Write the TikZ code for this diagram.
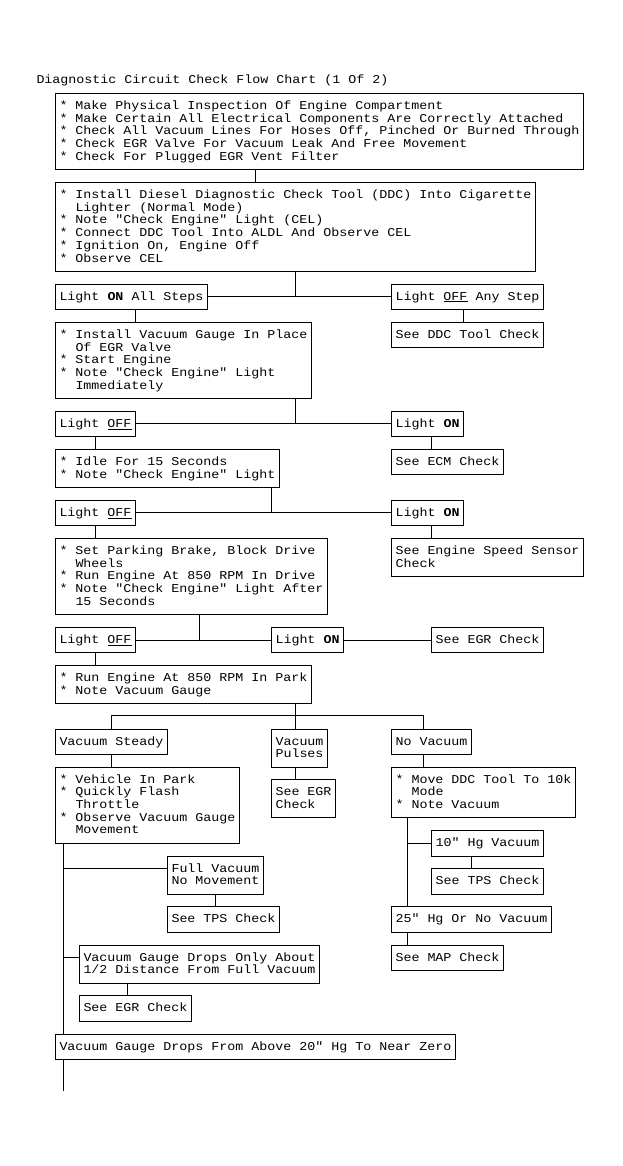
\documentclass[tikz,border=0pt]{standalone}
\usepackage{fontspec}
\setmonofont{Liberation Mono}[FakeStretch=1.11093]
\newcommand\Ta{\rule{0pt}{11pt}}
\newcommand\Tb{\rule[-4.4pt]{0pt}{4.4pt}}
\newcommand\ind{\hspace*{16pt}}
\begin{document}
\lineskiplimit=-20pt
\begin{tikzpicture}[x=1pt,y=-12.71pt,line width=1pt,
  every node/.style={font=\ttfamily\fontsize{12pt}{12.71pt}\selectfont},
  bx/.style={draw,anchor=north west,align=left,inner xsep=4pt,inner ysep=0pt,minimum height={(#1+1)*12.71pt}}]
\useasboundingbox (0pt,0pt) rectangle (622pt,-1166pt);
\begin{scope}[shift={(0pt,-93pt)}]
\node[anchor=base west,inner sep=0pt] (title) at (36,-0.74) {Diagnostic Circuit Check Flow Chart (1 Of 2)};
% boxes
\node[bx=5] (b1) at (55,0) {\Ta* Make Physical Inspection Of Engine Compartment\\{}* Make Certain All Electrical Components Are Correctly Attached\\{}* Check All Vacuum Lines For Hoses Off, Pinched Or Burned Through\\{}* Check EGR Valve For Vacuum Leak And Free Movement\\{}* Check For Plugged EGR Vent Filter\Tb};
\node[bx=6] (b2) at (55,7) {\Ta* Install Diesel Diagnostic Check Tool (DDC) Into Cigarette\\\ind Lighter (Normal Mode)\\{}* Note "Check Engine" Light (CEL)\\{}* Connect DDC Tool Into ALDL And Observe CEL\\{}* Ignition On, Engine Off\\{}* Observe CEL\Tb};
\node[bx=1] (lon1) at (55,15) {\Ta Light \textbf{ON} All Steps\Tb};
\node[bx=1] (loff1) at (391,15) {\Ta Light \underline{OFF} Any Step\Tb};
\node[bx=5] (b3) at (55,18) {\Ta* Install Vacuum Gauge In Place\\\ind Of EGR Valve\\{}* Start Engine\\{}* Note "Check Engine" Light\\\ind Immediately\Tb};
\node[bx=1] (ddc) at (391,18) {\Ta See DDC Tool Check\Tb};
\node[bx=1] (loff2) at (55,25) {\Ta Light \underline{OFF}\Tb};
\node[bx=1] (lon2) at (391,25) {\Ta Light \textbf{ON}\Tb};
\node[bx=2] (b4) at (55,28) {\Ta* Idle For 15 Seconds\\{}* Note "Check Engine" Light\Tb};
\node[bx=1] (ecm) at (391,28) {\Ta See ECM Check\Tb};
\node[bx=1] (loff3) at (55,32) {\Ta Light \underline{OFF}\Tb};
\node[bx=1] (lon3) at (391,32) {\Ta Light \textbf{ON}\Tb};
\node[bx=5] (b5) at (55,35) {\Ta* Set Parking Brake, Block Drive\\\ind Wheels\\{}* Run Engine At 850 RPM In Drive\\{}* Note "Check Engine" Light After\\\ind 15 Seconds\Tb};
\node[bx=2] (ess) at (391,35) {\Ta See Engine Speed Sensor\\Check\Tb};
\node[bx=1] (loff4) at (55,42) {\Ta Light \underline{OFF}\Tb};
\node[bx=1] (lon4) at (271,42) {\Ta Light \textbf{ON}\Tb};
\node[bx=1] (egr1) at (431,42) {\Ta See EGR Check\Tb};
\node[bx=2] (b6) at (55,45) {\Ta* Run Engine At 850 RPM In Park\\{}* Note Vacuum Gauge\Tb};
\node[bx=1] (vs) at (55,50) {\Ta Vacuum Steady\Tb};
\node[bx=2] (vp) at (271,50) {\Ta Vacuum\\Pulses\Tb};
\node[bx=1] (nv) at (391,50) {\Ta No Vacuum\Tb};
\node[bx=5] (b7) at (55,53) {\Ta* Vehicle In Park\\{}* Quickly Flash\\\ind Throttle\\{}* Observe Vacuum Gauge\\\ind Movement\Tb};
\node[bx=2] (egr2) at (271,54) {\Ta See EGR\\Check\Tb};
\node[bx=3] (b8) at (391,53) {\Ta* Move DDC Tool To 10k\\\ind Mode\\{}* Note Vacuum\Tb};
\node[bx=1] (hg10) at (431,58) {\Ta 10" Hg Vacuum\Tb};
\node[bx=2] (fv) at (167,60) {\Ta Full Vacuum\\No Movement\Tb};
\node[bx=1] (tps2) at (431,61) {\Ta See TPS Check\Tb};
\node[bx=1] (tps1) at (167,64) {\Ta See TPS Check\Tb};
\node[bx=1] (hg25) at (391,64) {\Ta 25" Hg Or No Vacuum\Tb};
\node[bx=2] (vgdo) at (79,67) {\Ta Vacuum Gauge Drops Only About\\1/2 Distance From Full Vacuum\Tb};
\node[bx=1] (map) at (391,67) {\Ta See MAP Check\Tb};
\node[bx=1] (egr3) at (79,71) {\Ta See EGR Check\Tb};
\node[bx=1] (vgdf) at (55,74) {\Ta Vacuum Gauge Drops From Above 20" Hg To Near Zero\Tb};
% connectors
\draw (b1.south -| 255,0) -- (b2.north -| 255,0);
\draw (b2.south -| 295,0) -- (lon1.east -| 295,0);
\draw (lon1.east) -- (loff1.west);
\draw (lon1.south -| 135,0) -- (b3.north -| 135,0);
\draw (loff1.south -| 463,0) -- (ddc.north -| 463,0);
\draw (b3.south -| 295,0) -- (loff2.east -| 295,0);
\draw (loff2.east) -- (lon2.west);
\draw (lon2.south -| 431,0) -- (ecm.north -| 431,0);
\draw (loff2.south -| 95,0) -- (b4.north -| 95,0);
\draw (b4.south -| 271,0) -- (loff3.east -| 271,0);
\draw (loff3.east) -- (lon3.west);
\draw (lon3.south -| 431,0) -- (ess.north -| 431,0);
\draw (loff3.south -| 95,0) -- (b5.north -| 95,0);
\draw (b5.south -| 199,0) -- (loff4.east -| 199,0);
\draw (loff4.east) -- (lon4.west);
\draw (lon4.east) -- (egr1.west);
\draw (loff4.south -| 95,0) -- (b6.north -| 95,0);
\coordinate (busL) at (111,49);
\coordinate (busM) at (295,49);
\coordinate (busR) at (423,49);
\draw (b6.south -| busM) -- (busM);
\draw (vs.north -| busL) -- (busL) -- (busR) -- (nv.north -| busR);
\draw (busM) -- (vp.north -| busM);
\draw (vs.south -| busL) -- (b7.north -| busL);
\draw (vp.south -| busM) -- (egr2.north -| busM);
\draw (nv.south -| busR) -- (b8.north -| busR);
\coordinate (rtr) at (407,0);
\draw (b8.south -| rtr) -- (hg25.north -| rtr);
\draw (hg10.west -| rtr) -- (hg10.west);
\draw (hg10.south -| 471,0) -- (tps2.north -| 471,0);
\draw (hg25.south -| rtr) -- (map.north -| rtr);
\coordinate (ltr) at (63,0);
\coordinate (tend) at (63,78.5);
\draw (b7.south -| ltr) -- (vgdf.north -| ltr);
\coordinate (fvc) at ([yshift=6.355pt]fv.west);
\coordinate (vgc) at ([yshift=6.355pt]vgdo.west);
\draw (fvc -| ltr) -- (fvc);
\draw (vgc -| ltr) -- (vgc);
\draw (fv.south -| 215,0) -- (tps1.north -| 215,0);
\draw (vgdo.south -| 127,0) -- (egr3.north -| 127,0);
\draw (vgdf.south -| ltr) -- (tend);
\end{scope}
\end{tikzpicture}
\end{document}
